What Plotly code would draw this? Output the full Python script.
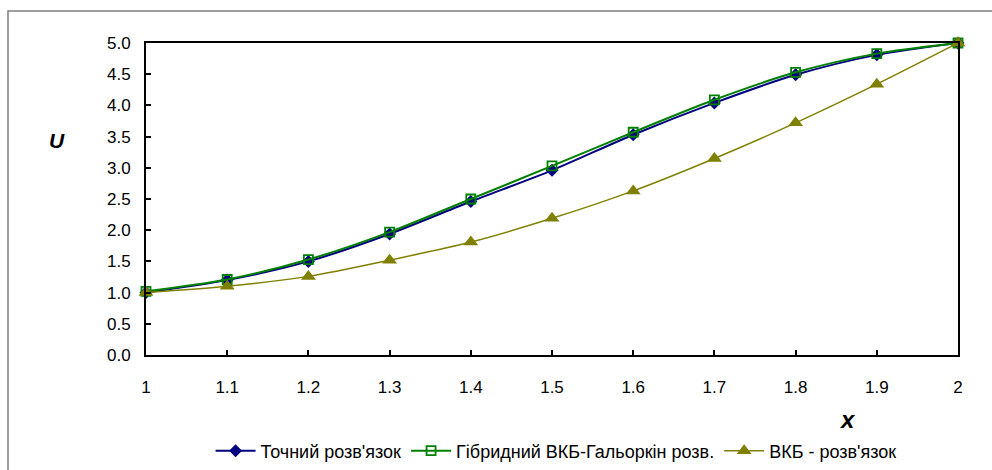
import plotly.graph_objects as go

# Grid points and the three solutions U(x)
x_vals = [1.0, 1.1, 1.2, 1.3, 1.4, 1.5, 1.6, 1.7, 1.8, 1.9, 2.0]
u_exact = [1.00, 1.20, 1.50, 1.94, 2.46, 2.96, 3.53, 4.04, 4.49, 4.81, 5.00]
u_hybrid = [1.02, 1.21, 1.53, 1.97, 2.50, 3.03, 3.57, 4.09, 4.53, 4.83, 5.00]
u_wkb = [1.00, 1.10, 1.26, 1.52, 1.81, 2.19, 2.63, 3.15, 3.72, 4.34, 5.00]

series_names = [
    "Точний розв'язок",
    "Гібридний ВКБ-Гальоркін розв.",
    "ВКБ - розв'язок",
]

x_ticks = [1.0, 1.1, 1.2, 1.3, 1.4, 1.5, 1.6, 1.7, 1.8, 1.9, 2.0]
x_tick_text = ["1", "1.1", "1.2", "1.3", "1.4", "1.5", "1.6", "1.7", "1.8", "1.9", "2"]

FONT = "Liberation Sans, Arial, sans-serif"

fig = go.Figure()

fig.add_trace(go.Scatter(
    x=x_vals, y=u_exact, name=series_names[0], mode="lines+markers",
    line=dict(color="#000080", width=2, shape="spline", smoothing=0.8),
    marker=dict(symbol="diamond", size=10, color="#000080",
                line=dict(color="#000080", width=0)),
    cliponaxis=False,
))
fig.add_trace(go.Scatter(
    x=x_vals, y=u_hybrid, name=series_names[1], mode="lines+markers",
    line=dict(color="#008000", width=2, shape="spline", smoothing=0.8),
    marker=dict(symbol="square-open", size=9, color="#008000",
                line=dict(color="#008000", width=1.8)),
    cliponaxis=False,
))
fig.add_trace(go.Scatter(
    x=x_vals, y=u_wkb, name=series_names[2], mode="lines+markers",
    line=dict(color="#808000", width=1.5, shape="spline", smoothing=0.8),
    marker=dict(symbol="triangle-up", size=13, color="#808000",
                line=dict(color="#808000", width=0)),
    cliponaxis=False,
))

axis_common = dict(
    showgrid=False, zeroline=False,
    showline=True, linecolor="black", linewidth=2, mirror=True,
    ticks="inside", ticklen=5, tickwidth=1.5, tickcolor="black",
    tickfont=dict(family=FONT, size=17, color="black"),
)

fig.update_xaxes(
    range=[1, 2], tickvals=x_ticks, ticktext=x_tick_text,
    ticklabelstandoff=16, **axis_common,
)
fig.update_yaxes(
    range=[0, 5], dtick=0.5, tick0=0, tickformat=".1f",
    ticklabelstandoff=10, **axis_common,
)

# Axis titles
fig.add_annotation(
    text="<b><i>U</i></b>", xref="paper", yref="paper",
    x=(57 - 146) / 812, y=(355 - 140) / 312, showarrow=False,
    font=dict(family=FONT, size=21, color="black"),
    xanchor="center", yanchor="middle",
)
fig.add_annotation(
    text="<b><i>x</i></b>", xref="paper", yref="paper",
    x=(847 - 146) / 812, y=(355 - 419) / 312, showarrow=False,
    font=dict(family=FONT, size=24, color="black"),
    xanchor="center", yanchor="middle",
)

# Chart frame
fig.add_shape(
    type="rect", xref="paper", yref="paper",
    x0=(8 - 146) / 812, x1=1.2, y0=-0.5, y1=(355 - 11) / 312,
    line=dict(color="#7f7f7f", width=1.5), fillcolor="rgba(0,0,0,0)",
    layer="below",
)

fig.update_layout(
    width=992, height=470,
    margin=dict(l=146, r=34, t=43, b=115, autoexpand=False),
    paper_bgcolor="white", plot_bgcolor="white",
    font=dict(family=FONT, size=17, color="black"),
    showlegend=True,
    legend=dict(
        orientation="h", x=0.505, y=(355 - 451) / 312,
        xanchor="center", yanchor="middle",
        font=dict(family=FONT, size=18, color="black"),
        bgcolor="rgba(0,0,0,0)", itemwidth=40, tracegroupgap=0,
    ),
)

fig.write_html("out.html")
